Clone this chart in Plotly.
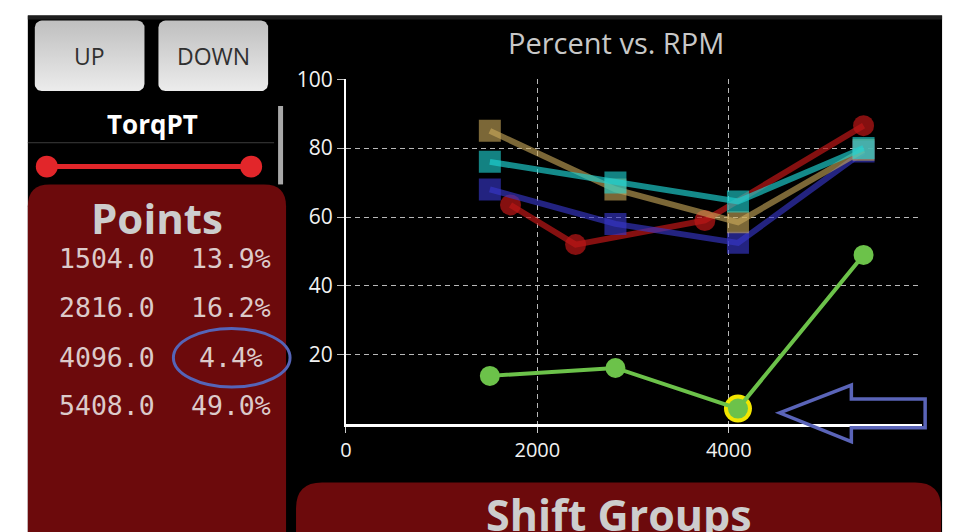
import plotly.graph_objects as go
import numpy as np

W, H = 953, 532

# ---------------- data ----------------
rpm_points = [1504, 2816, 4096, 5408]
pct_points = [13.9, 16.2, 4.4, 49.0]
highlight_index = 2

red_rpm = [1720, 2400, 3750, 5408]
red_pct = [63.5, 52.0, 59.0, 86.5]

square_rpm = [1504, 2816, 4096, 5408]
tan_pct = [85.0, 68.0, 58.5, 79.5]
cyan_pct = [76.0, 70.0, 64.5, 80.0]
blue_pct = [68.0, 58.0, 52.5, 79.0]

x_ticks = [0, 2000, 4000]
y_ticks = [20, 40, 60, 80, 100]

chart_title = "Percent vs. RPM"
buttons = ["UP", "DOWN"]
selector_label = "TorqPT"
panel_title = "Points"
bottom_panel_title = "Shift Groups"


# ---------------- helpers ----------------
def tx(x):
    return (x - 4.1) / 0.9967


def ty(y):
    return (y - 12.4) / 0.9785


def px(x):
    return tx(x) / W


def py(y):
    return 1 - ty(y) / H


def rr_path(x0, y0, x1, y1, r):
    """rounded rect path in paper coords from pixel box"""
    pts = [
        ("M", x0, y0 + r),
        ("Q", x0, y0, x0 + r, y0),
        ("L", x1 - r, y0),
        ("Q", x1, y0, x1, y0 + r),
        ("L", x1, y1 - r),
        ("Q", x1, y1, x1 - r, y1),
        ("L", x0 + r, y1),
        ("Q", x0, y1, x0, y1 - r),
    ]
    s = ""
    for p in pts:
        cmd = p[0]
        coords = p[1:]
        pairs = []
        for i in range(0, len(coords), 2):
            pairs.append(f"{px(coords[i]):.5f},{py(coords[i+1]):.5f}")
        s += cmd + " " + " ".join(pairs) + " "
    return s + "Z"


def rr_points(x0, y0, x1, y1, r, n=10):
    xs, ys = [], []
    corners = [
        (x0 + r, y0 + r, np.pi, 1.5 * np.pi),
        (x1 - r, y0 + r, 1.5 * np.pi, 2 * np.pi),
        (x1 - r, y1 - r, 0, 0.5 * np.pi),
        (x0 + r, y1 - r, 0.5 * np.pi, np.pi),
    ]
    for cx, cy, a0, a1 in corners:
        for a in np.linspace(a0, a1, n):
            xs.append(tx(cx + r * np.cos(a)))
            ys.append(ty(cy + r * np.sin(a)))
    xs.append(xs[0])
    ys.append(ys[0])
    return xs, ys


fig = go.Figure()

# ---------------- chart traces ----------------
fig.add_trace(go.Scatter(
    x=red_rpm, y=red_pct, mode="lines+markers",
    line=dict(color="rgba(185,22,22,0.72)", width=6),
    marker=dict(symbol="circle", size=21, color="rgba(185,22,22,0.72)", line=dict(width=0)),
    hoverinfo="skip"))
fig.add_trace(go.Scatter(
    x=square_rpm, y=blue_pct, mode="lines+markers",
    line=dict(color="rgba(55,55,200,0.64)", width=6),
    marker=dict(symbol="square", size=22, color="rgba(55,55,200,0.64)", line=dict(width=0)),
    hoverinfo="skip"))
fig.add_trace(go.Scatter(
    x=square_rpm, y=tan_pct, mode="lines+markers",
    line=dict(color="rgba(205,172,92,0.6)", width=6),
    marker=dict(symbol="square", size=22, color="rgba(205,172,92,0.6)", line=dict(width=0)),
    hoverinfo="skip"))
fig.add_trace(go.Scatter(
    x=square_rpm, y=cyan_pct, mode="lines+markers",
    line=dict(color="rgba(30,210,210,0.66)", width=6),
    marker=dict(symbol="square", size=22, color="rgba(30,210,210,0.62)", line=dict(width=0)),
    hoverinfo="skip"))
# highlight ring
fig.add_trace(go.Scatter(
    x=[rpm_points[highlight_index]], y=[pct_points[highlight_index]], mode="markers",
    marker=dict(symbol="circle", size=28, color="#f2e600", line=dict(width=0)),
    hoverinfo="skip"))
fig.add_trace(go.Scatter(
    x=rpm_points, y=pct_points, mode="lines+markers",
    line=dict(color="#6cc24a", width=4),
    marker=dict(symbol="circle", size=20, color="#6cc24a", line=dict(width=0)),
    hoverinfo="skip"))

# ---------------- button traces (pixel overlay axes) ----------------
btn_boxes = [(33, 18, 143, 89), (157, 18, 267, 89)]
for (bx0, by0, bx1, by1) in btn_boxes:
    xs, ys = rr_points(bx0, by0, bx1, by1, 7)
    fig.add_trace(go.Scatter(
        x=xs, y=ys, xaxis="x2", yaxis="y2", mode="lines", fill="toself",
        line=dict(width=0, color="rgba(0,0,0,0)"),
        fillgradient=dict(type="vertical",
                          colorscale=[[0, "#ececec"], [1, "#bfbfbf"]]),
        hoverinfo="skip"))

# ---------------- shapes ----------------
shapes = []
# black screen
shapes.append(dict(type="rect", xref="paper", yref="paper", layer="below",
                   x0=px(26), x1=px(943), y0=-0.05, y1=py(13),
                   fillcolor="#000000", line=dict(width=0)))
shapes.append(dict(type="rect", xref="paper", yref="paper", layer="below",
                   x0=px(26), x1=px(943), y0=py(17), y1=py(13),
                   fillcolor="#1e1e1e", line=dict(width=0)))
# separator
shapes.append(dict(type="line", xref="paper", yref="paper", layer="below",
                   x0=px(26), x1=px(273), y0=py(141), y1=py(141),
                   line=dict(color="#3c3c3c", width=1)))
# scrollbar
shapes.append(dict(type="rect", xref="paper", yref="paper", layer="below",
                   x0=px(277), x1=px(282), y0=py(183), y1=py(104),
                   fillcolor="#a8a8a8", line=dict(width=0)))
# slider
shapes.append(dict(type="line", xref="paper", yref="paper", layer="below",
                   x0=px(45), x1=px(250), y0=py(165), y1=py(165),
                   line=dict(color="#e2262a", width=5)))
for cx in (45, 250):
    shapes.append(dict(type="circle", xref="paper", yref="paper", layer="below",
                       x0=px(cx - 11), x1=px(cx + 11), y0=py(165 + 11), y1=py(165 - 11),
                       fillcolor="#e2262a", line=dict(width=0)))
# panels
shapes.append(dict(type="path", xref="paper", yref="paper", layer="below",
                   path=rr_path(26, 183, 285, 590, 22),
                   fillcolor="#6c0a0c", line=dict(width=0)))
shapes.append(dict(type="path", xref="paper", yref="paper", layer="below",
                   path=rr_path(295, 483, 942, 590, 26),
                   fillcolor="#6c0a0c", line=dict(width=0)))
# ellipse annotation
shapes.append(dict(type="circle", xref="paper", yref="paper", layer="above",
                   x0=px(172), x1=px(289), y0=py(387), y1=py(328),
                   line=dict(color="#5564b8", width=3)))
# arrow
arrow_px = [(780, 413), (852, 385), (852, 399), (926, 399), (926, 428),
            (852, 428), (852, 442)]
apath = "M " + " L ".join(f"{px(a):.5f},{py(b):.5f}" for a, b in arrow_px) + " Z"
shapes.append(dict(type="path", xref="paper", yref="paper", layer="above",
                   path=apath, line=dict(color="#5a64b8", width=3.5)))

# ---------------- annotations ----------------
ann = []
FONT = "Open Sans"


def label(text, x, y, size, color, family=FONT, weight="normal"):
    ann.append(dict(text=text, x=px(x), y=py(y), xref="paper", yref="paper",
                    showarrow=False, xanchor="center", yanchor="middle",
                    font=dict(family=family, size=size, color=color, weight=weight)))


label(chart_title, 616, 40, 29, "#c8c8c8")
for (bx0, by0, bx1, by1), b in zip(btn_boxes, buttons):
    label(b, (bx0 + bx1) / 2, 54, 23, "#303030")
label(selector_label, 151, 122, 26, "#ffffff", weight="bold")
label(panel_title, 156, 216, 42, "#cdcdcd", weight="bold")
row_y = [258, 307, 357, 406]
for yy, r, p in zip(row_y, rpm_points, pct_points):
    label(f"{r:.1f}", 105, yy, 26.5, "#dccaca", family="DejaVu Sans Mono")
    label(f"{p:.1f}%", 230, yy, 26.5, "#dccaca", family="DejaVu Sans Mono")
label(bottom_panel_title, 619, 515, 43, "#cdcdcd", weight="bold")

fig.update_layout(
    width=W, height=H,
    margin=dict(l=0, r=0, t=0, b=0),
    paper_bgcolor="#ffffff",
    plot_bgcolor="rgba(0,0,0,0)",
    showlegend=False,
    shapes=shapes,
    annotations=ann,
    xaxis=dict(domain=[px(345), px(923)], range=[0, 6020],
               tickvals=x_ticks, ticktext=[str(v) for v in x_ticks],
               showgrid=True, gridcolor="#b8b8b8", gridwidth=1, griddash="5px,4px",
               showline=True, linecolor="#ffffff", linewidth=3,
               ticks="outside", ticklen=6, tickcolor="#cccccc", tickwidth=1,
               tickfont=dict(family=FONT, size=20, color="#f2f2f2"),
               zeroline=False, fixedrange=True),
    yaxis=dict(domain=[py(424), py(77)], range=[0, 100],
               tickvals=y_ticks, ticktext=[str(v) for v in y_ticks],
               showgrid=True, gridcolor="#b8b8b8", gridwidth=1, griddash="5px,4px",
               showline=True, linecolor="#ffffff", linewidth=2,
               ticks="outside", ticklen=7, tickcolor="#bbbbbb", tickwidth=1,
               tickfont=dict(family=FONT, size=21, color="#f2f2f2"),
               zeroline=False, fixedrange=True),
    xaxis2=dict(domain=[0, 1], range=[0, W], visible=False, fixedrange=True),
    yaxis2=dict(domain=[0, 1], range=[H, 0], visible=False, fixedrange=True),
)

fig.write_html(
    "out.html",
    config={"displayModeBar": False, "staticPlot": True},
    post_script="document.body.style.margin='0';document.body.style.overflow='hidden';",
)
